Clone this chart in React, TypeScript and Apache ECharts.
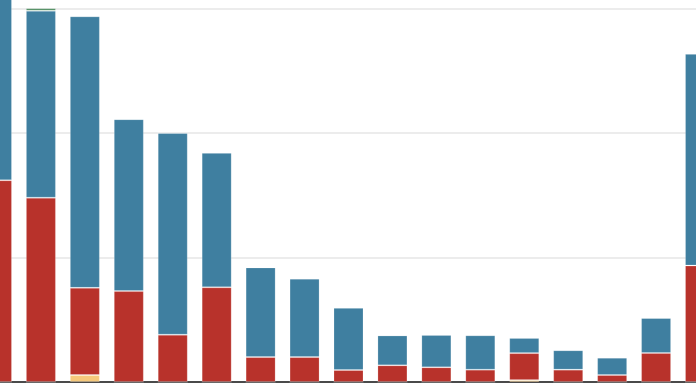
import React, { useEffect, useRef } from "react";
import * as echarts from "echarts";

const categories = ["A", "B", "C", "D", "E", "F", "G", "H", "I", "J", "K", "L", "M", "N", "O", "P", "Q"];
const yellowValues = [0, 0, 5.6, 0, 0, 0, 0, 0, 0, 0, 0, 0, 1.5, 0, 0, 0, 0];
const redValues = [162, 148, 70, 73, 38, 76, 20, 20, 9.6, 13.4, 11.8, 9.9, 21.7, 9.9, 5.6, 23.3, 93.5];
const blueValues = [168, 150, 218, 138, 162, 108, 72, 63, 50, 24, 26, 27.6, 12.2, 15.6, 13.9, 28.1, 170];
const greenValues = [0, 2, 0, 0, 0, 0, 0, 0, 0, 0, 0, 0, 0, 0, 0, 0, 0];

export default function App() {
  const ref = useRef<HTMLDivElement>(null);
  useEffect(() => {
    if (!ref.current) return;
    const chart = echarts.init(ref.current, null, { renderer: "svg" });
    const border = { borderColor: "rgba(255,255,255,0.18)", borderWidth: 1 };
    const mk = (name: string, data: number[], color: string) => ({
      name,
      type: "bar",
      stack: "total",
      data,
      barWidth: 30,
      itemStyle: { color, ...border },
      emphasis: { disabled: true },
    });
    chart.setOption({
      animation: false,
      grid: { left: 0, width: 747, top: 0, bottom: 3, outerBoundsMode: "none", containLabel: false },
      xAxis: {
        type: "category",
        data: categories,
        axisLine: { show: true, lineStyle: { color: "#4a4a4a", width: 2 } },
        axisTick: { show: false },
        axisLabel: { show: false },
      },
      yAxis: {
        type: "value",
        min: 0,
        max: 330,
        interval: 100,
        axisLine: { show: false },
        axisTick: { show: false },
        axisLabel: { show: false },
        splitLine: { lineStyle: { color: "#e6e6e6", width: 1.5 } },
      },
      series: [
        mk("Yellow", yellowValues, "#f6c97c"),
        mk("Red", redValues, "#b8322b"),
        mk("Blue", blueValues, "#3f7fa0"),
        mk("Green", greenValues, "#4a8a5c"),
      ],
    });
    return () => chart.dispose();
  }, []);
  return (
    <div
      ref={ref}
      style={{ position: "fixed", left: -25, top: -29, width: 750, height: 414 }}
    />
  );
}
